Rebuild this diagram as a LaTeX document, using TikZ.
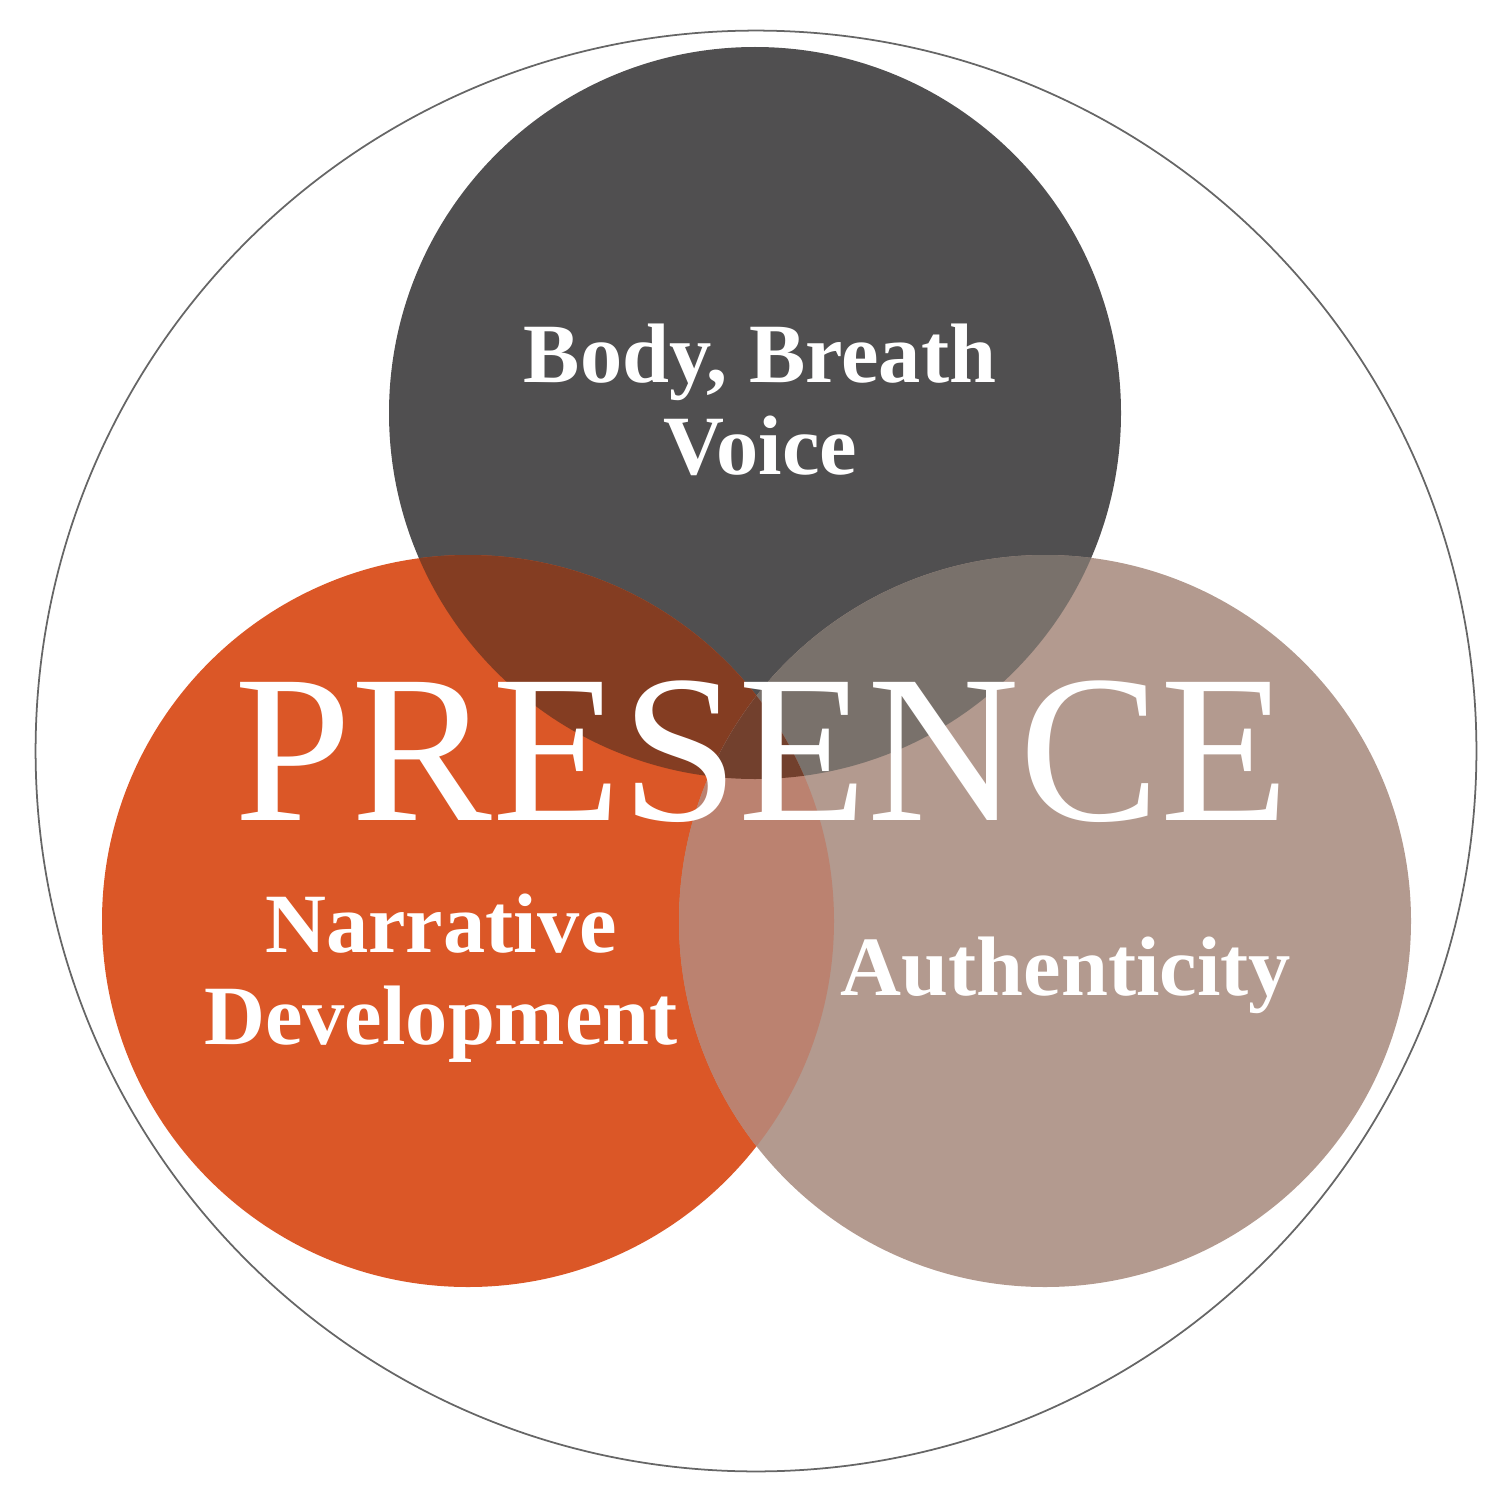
\documentclass[tikz,border=0pt]{standalone}
\usepackage{fontspec}
\setmainfont{Liberation Serif}
\definecolor{cdark}{HTML}{504F50}
\definecolor{corange}{HTML}{DB5727}
\definecolor{ctan}{HTML}{B39A8F}
\definecolor{cTL}{HTML}{843D22}
\definecolor{cTR}{HTML}{79716B}
\definecolor{cLR}{HTML}{BB8270}
\definecolor{cALL}{HTML}{72402D}
\begin{document}
\begin{tikzpicture}[x=0.01cm,y=-0.01cm,
  lab/.style={text=white,font=\fontsize{24}{26}\selectfont\bfseries,align=center}]
\useasboundingbox (0,0) rectangle (1500,1500);
\def\T{(755,413) circle (366)}
\def\L{(468,921) circle (366)}
\def\R{(1045,921) circle (366)}
\node[draw=black!60,line width=0.5pt,circle,minimum size=14.4cm,inner sep=0] (outer) at (756,751) {};
\fill[cdark] \T;
\fill[corange] \L;
\fill[ctan] \R;
\begin{scope}\clip \T; \fill[cTL] \L; \fill[cTR] \R; \end{scope}
\begin{scope}\clip \L; \fill[cLR] \R; \end{scope}
\begin{scope}\clip \T; \clip \L; \fill[cALL] \R; \end{scope}
\node[lab] (top) at (760,400) {Body, Breath\\Voice};
\node[lab] (left) at (441,978) {Narrative\\Development};
\node[lab] (right) at (1066,975) {Authenticity};
\node[text=white,font=\fontsize{60}{60}\selectfont] (pres) at (762,752) {PRESENCE};
\end{tikzpicture}
\end{document}
